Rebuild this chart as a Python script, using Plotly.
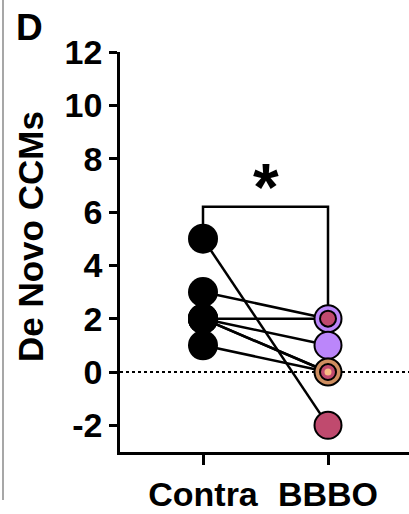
import plotly.graph_objects as go

# Paired de novo CCM counts per animal: contralateral vs BBBO hemisphere
groups = ["Contra", "BBBO"]
contra = [5, 3, 2, 2, 2, 2, 1]
bbbo = [-2, 2, 2, 1, 0, 0, 0]
animal_colour = ["crimson", "purple", "crimson", "purple", "tan", "crimson", "tan"]
y_ticks = [-2, 0, 2, 4, 6, 8, 10, 12]
y_tick_text = [str(v) for v in y_ticks]
panel_letter = "D"
y_title = "De Novo CCMs"
significance = "*"

palette = {
    "crimson": "#C04A6E",
    "purple": "#BB86FA",
    "tan": "#CF8E60",
}
inner_tan = "#F8BC84"

FONT = "Liberation Sans, Arial, Helvetica, sans-serif"
W, H = 409, 514
L, T, B = 120, 52, 62
plot_w = W - L
plot_h = H - T - B
unit_px = 125.0
x_left = -83.0 / unit_px
x_range = [x_left, x_left + plot_w / unit_px]


def px_x(p):
    return (p - L) / plot_w


def px_y(p):
    return (H - B - p) / plot_h


fig = go.Figure()

# connecting lines for each animal
for c, b in zip(contra, bbbo):
    fig.add_trace(go.Scatter(
        x=[0, 1], y=[c, b], mode="lines",
        line=dict(color="black", width=2.5),
        hoverinfo="skip", showlegend=False,
    ))

# contralateral points (black)
fig.add_trace(go.Scatter(
    x=[0] * len(contra), y=contra, mode="markers",
    marker=dict(size=30, color="black", line=dict(color="black", width=0)),
    showlegend=False,
))

# BBBO points; coincident values are drawn as nested, shrinking circles
seen = {}
for val, key in zip(bbbo, animal_colour):
    k = seen.get(val, 0)
    seen[val] = k + 1
    size = [27, 16, 7][min(k, 2)]
    border = [2, 2, 0][min(k, 2)]
    colour = palette[key]
    if k >= 2 and key == "tan":
        colour = inner_tan
    fig.add_trace(go.Scatter(
        x=[1], y=[val], mode="markers",
        marker=dict(size=size, color=colour, line=dict(color="black", width=border)),
        showlegend=False,
    ))

# significance bracket
top = max(contra + bbbo) + 1.2
left_end = max(contra) + 0.5
right_end = max(bbbo) + 0.5
fig.add_trace(go.Scatter(
    x=[0, 0, 1, 1], y=[left_end, top, top, right_end], mode="lines",
    line=dict(color="black", width=2.5), hoverinfo="skip", showlegend=False,
))
fig.add_annotation(
    x=0.5, y=top, text=significance, showarrow=False,
    xanchor="center", yanchor="bottom", yshift=-19,
    font=dict(family=FONT, size=66, color="black", weight="bold"),
)

# dotted zero reference line
fig.add_shape(
    type="line", xref="x domain", yref="y", x0=0, x1=1, y0=0, y1=0,
    line=dict(color="black", width=2, dash="dot"), layer="below",
)

# panel divider at the far left
fig.add_shape(
    type="line", xref="paper", yref="paper",
    x0=px_x(3), x1=px_x(3), y0=px_y(0), y1=px_y(500),
    line=dict(color="#8a8a8a", width=1.5),
)

fig.add_annotation(
    xref="paper", yref="paper", x=px_x(29), y=px_y(27),
    xanchor="center", yanchor="middle",
    text=panel_letter, showarrow=False,
    font=dict(family=FONT, size=37, color="black", weight="bold"),
)
fig.add_annotation(
    xref="paper", yref="paper", x=px_x(30), y=px_y(237),
    xanchor="center", yanchor="middle",
    text=y_title, textangle=-90, showarrow=False,
    font=dict(family=FONT, size=35, color="black", weight="bold"),
)

fig.update_layout(
    width=W, height=H,
    margin=dict(l=L, r=0, t=T, b=B, autoexpand=False),
    plot_bgcolor="white", paper_bgcolor="white",
    xaxis=dict(
        range=x_range, tickvals=[0, 1], ticktext=groups,
        showline=True, linecolor="black", linewidth=2.5,
        ticks="outside", ticklen=10, tickwidth=2.5, tickcolor="black",
        showgrid=False, zeroline=False, ticklabelstandoff=0, automargin=False,
        tickfont=dict(family=FONT, size=34, color="black", weight="bold"),
        fixedrange=True,
    ),
    yaxis=dict(
        range=[-3, 12], tickvals=y_ticks, ticktext=y_tick_text,
        showline=True, linecolor="black", linewidth=2.5,
        ticks="outside", ticklen=8, tickwidth=2.5, tickcolor="black",
        showgrid=False, zeroline=False, ticklabelstandoff=0, automargin=False,
        tickfont=dict(family=FONT, size=34, color="black", weight="bold"),
        fixedrange=True,
    ),
)

fig.write_html("out.html")
